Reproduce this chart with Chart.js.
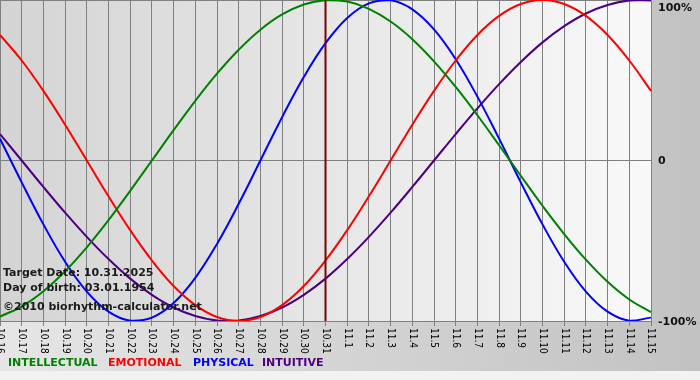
<!DOCTYPE html>
<html><head><meta charset="utf-8">
<script src="https://cdn.jsdelivr.net/npm/chart.js@4/dist/chart.umd.min.js"></script>
<style>
html,body{margin:0;padding:0;width:700px;height:380px;overflow:hidden;background:#f2f2f2;}
#wrap{position:relative;width:700px;height:380px;}
canvas{display:block;}
</style></head><body>
<div id="wrap"><canvas id="c" width="700" height="380"></canvas></div>
<script>
// ---- data ----
const dates = ['10.16','10.17','10.18','10.19','10.20','10.21','10.22','10.23','10.24','10.25','10.26','10.27','10.28','10.29','10.30','10.31',
               '11.1','11.2','11.3','11.4','11.5','11.6','11.7','11.8','11.9','11.10','11.11','11.12','11.13','11.14','11.15'];
const intellectual = [-0.972,-0.910,-0.815,-0.690,-0.541,-0.372,-0.189,0,0.189,0.372,0.541,0.690,0.815,0.910,0.972,0.999,0.990,0.945,0.866,0.756,0.618,0.458,0.282,0.095,-0.095,-0.282,-0.458,-0.618,-0.756,-0.866,-0.945];
const emotional = [0.782,0.623,0.434,0.223,0,-0.223,-0.434,-0.623,-0.782,-0.901,-0.975,-1,-0.975,-0.901,-0.782,-0.623,-0.434,-0.223,0,0.223,0.434,0.623,0.782,0.901,0.975,1,0.975,0.901,0.782,0.623,0.434];
const physical = [0.136,-0.136,-0.398,-0.631,-0.817,-0.942,-0.998,-0.979,-0.888,-0.731,-0.520,-0.270,0,0.270,0.520,0.731,0.888,0.979,0.998,0.942,0.817,0.631,0.398,0.136,-0.136,-0.398,-0.631,-0.817,-0.942,-0.998,-0.979];
const intuitive = [0.165,0,-0.165,-0.325,-0.476,-0.614,-0.736,-0.837,-0.916,-0.969,-0.997,-0.997,-0.969,-0.916,-0.837,-0.736,-0.614,-0.476,-0.325,-0.165,0,0.165,0.325,0.476,0.614,0.736,0.837,0.916,0.969,0.997,0.997];
const seriesNames = ['INTELLECTUAL','EMOTIONAL','PHYSICAL','INTUITIVE'];
const yTickValues = [1, 0, -1];
const yTickLabels = ['100%', '0', '-100%'];
const targetDate = '10.31';
const infoLines = ['Target Date: 10.31.2025', 'Day of birth: 03.01.1954', '\u00A92010 biorhythm-calculator.net'];

// ---- styles ----
const colors = ['#008000', '#ff0000', '#0000ff', '#4b0082'];
const legendX = [8, 108, 193, 262];
const infoY = [276, 291, 310];
const BOLD = 'bold 11px "DejaVu Sans", Verdana, sans-serif';

const drawPlugin = {
  id: 'bioDraw',
  beforeDraw(chart) {
    const { ctx, chartArea: a, width, height } = chart;
    ctx.save();
    let g = ctx.createLinearGradient(0, 0, width, 0);
    g.addColorStop(0, '#e6e6e6'); g.addColorStop(1, '#c2c2c2');
    ctx.fillStyle = g; ctx.fillRect(0, 0, width, height);
    ctx.fillStyle = '#f2f2f2'; ctx.fillRect(0, 371, width, height - 371);
    g = ctx.createLinearGradient(a.left, 0, a.right, 0);
    g.addColorStop(0, '#d4d4d4'); g.addColorStop(1, '#f9f9f9');
    ctx.fillStyle = g; ctx.fillRect(a.left, a.top, a.right - a.left, a.bottom - a.top);
    ctx.restore();
  },
  afterDatasetsDraw(chart) {
    const { ctx, chartArea: a, scales } = chart;
    ctx.save();
    const tx = scales.x.getPixelForValue(dates.indexOf(targetDate));
    ctx.strokeStyle = '#800000'; ctx.lineWidth = 2;
    ctx.beginPath(); ctx.moveTo(tx, a.top); ctx.lineTo(tx, a.bottom); ctx.stroke();
    ctx.font = BOLD; ctx.fillStyle = '#1a1a1a'; ctx.textAlign = 'left'; ctx.textBaseline = 'alphabetic';
    infoLines.forEach((t, i) => ctx.fillText(t, 3, infoY[i]));
    ctx.restore();
  },
  afterDraw(chart) {
    const { ctx, chartArea: a, scales } = chart;
    ctx.save();
    ctx.font = '10px "Liberation Sans Narrow", "DejaVu Sans Condensed", Arial, sans-serif';
    ctx.fillStyle = '#000'; ctx.textAlign = 'left'; ctx.textBaseline = 'middle';
    dates.forEach((d, i) => {
      const x = scales.x.getPixelForValue(i);
      ctx.save(); ctx.translate(x, a.bottom + 7); ctx.rotate(Math.PI / 2);
      ctx.fillText(d, 0, 0); ctx.restore();
    });
    ctx.font = BOLD; ctx.fillStyle = '#111';
    yTickValues.forEach((v, i) => {
      let y = scales.y.getPixelForValue(v);
      if (y < a.top + 8) { ctx.textBaseline = 'top'; y = y + 3; }
      else { ctx.textBaseline = 'middle'; y = y + 1; }
      ctx.fillText(yTickLabels[i], a.right + 7, y);
    });
    ctx.textBaseline = 'alphabetic';
    chart.data.datasets.forEach((ds, i) => {
      ctx.fillStyle = ds.borderColor;
      ctx.fillText(ds.label, legendX[i], 366);
    });
    ctx.restore();
  }
};

const seriesData = [intellectual, emotional, physical, intuitive];
new Chart(document.getElementById('c'), {
  type: 'line',
  data: {
    labels: dates,
    datasets: seriesNames.map((n, i) => ({
      label: n, data: seriesData[i], borderColor: colors[i], backgroundColor: colors[i],
      borderWidth: 2, pointRadius: 0, tension: 0.4, fill: false
    }))
  },
  options: {
    responsive: false, animation: false, devicePixelRatio: 1,
    layout: { padding: { left: 0, right: 49, top: 0, bottom: 54 } },
    plugins: { legend: { display: false }, tooltip: { enabled: false } },
    scales: {
      x: {
        offset: false,
        grid: { color: '#808080', lineWidth: 1, drawTicks: true, tickLength: 5 },
        border: { display: true, color: '#808080' },
        ticks: { display: false }
      },
      y: {
        min: -1, max: 1,
        grid: { color: '#808080', lineWidth: 1, drawTicks: false },
        border: { display: true, color: '#808080' },
        ticks: { display: false, stepSize: 1 }
      }
    }
  },
  plugins: [drawPlugin]
});
</script>
</body></html>
